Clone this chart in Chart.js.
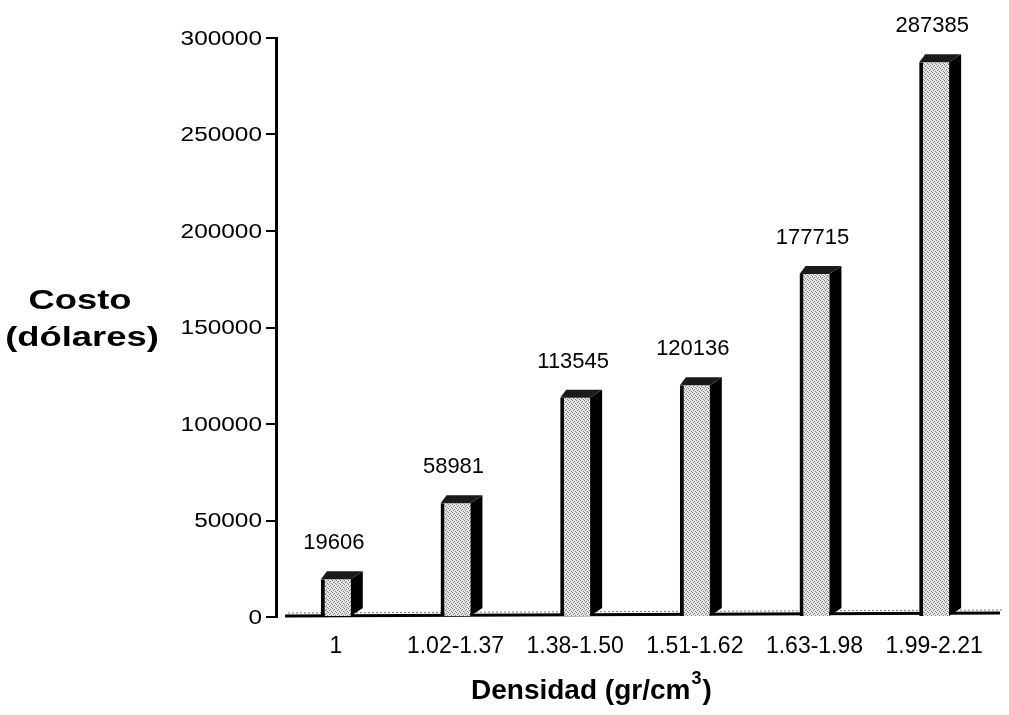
<!DOCTYPE html>
<html>
<head>
<meta charset="utf-8">
<script src="https://cdn.jsdelivr.net/npm/chart.js@4/dist/chart.umd.min.js"></script>
<style>
  html, body { margin: 0; padding: 0; background: #fff; }
  #wrap { width: 1009px; height: 715px; }
</style>
</head>
<body>
<div id="wrap"><canvas id="c" width="1009" height="715"></canvas></div>
<script>
// Density ranges (gr/cm3) and cost in dollars
const categories = ['1', '1.02-1.37', '1.38-1.50', '1.51-1.62', '1.63-1.98', '1.99-2.21'];
const costs = [19606, 58981, 113545, 120136, 177715, 287385];
const yTicks = [0, 50000, 100000, 150000, 200000, 250000, 300000];

const FONT = '"Liberation Sans", Arial, Helvetica, sans-serif';
const DEPTH_X = 12, DEPTH_Y = 8;

// Stippled light-grey fill for the bar fronts
function stipple() {
  const p = document.createElement('canvas');
  p.width = 4; p.height = 4;
  const g = p.getContext('2d');
  g.fillStyle = '#e2e2e2'; g.fillRect(0, 0, 4, 4);
  g.fillStyle = '#7c7c7c';
  [[0,0],[2,1],[1,2],[3,3]].forEach(([x, y]) => g.fillRect(x, y, 1, 1));
  g.fillStyle = '#ffffff';
  [[1,0],[3,2]].forEach(([x, y]) => g.fillRect(x, y, 1, 1));
  return g.createPattern(p, 'repeat');
}
const ctx0 = document.getElementById('c').getContext('2d');
const frontFill = stipple();

// Draw text stretched horizontally around an anchor
function wideText(ctx, text, x, y, align, sx) {
  ctx.save();
  ctx.translate(x, y);
  ctx.scale(sx, 1);
  ctx.textAlign = align;
  ctx.fillText(text, 0, 0);
  ctx.restore();
}

// Extruded sides, tops, floor, value labels and the free-standing titles
const solidBars = {
  id: 'solidBars',
  beforeDatasetsDraw(chart) {
    const { ctx, chartArea: a } = chart;
    ctx.save();
    ctx.strokeStyle = '#000';
    ctx.lineWidth = 3;
    ctx.beginPath();
    ctx.moveTo(a.left + 9, a.bottom - 1);
    ctx.lineTo(a.right + 6, a.bottom - 4);
    ctx.stroke();
    ctx.strokeStyle = '#777';
    ctx.lineWidth = 1;
    ctx.setLineDash([2, 2]);
    ctx.beginPath();
    ctx.moveTo(a.left + 12, a.bottom - 4);
    ctx.lineTo(a.right + 8, a.bottom - 7);
    ctx.stroke();
    ctx.restore();
  },
  afterDatasetsDraw(chart) {
    const { ctx } = chart;
    const meta = chart.getDatasetMeta(0);
    ctx.save();
    meta.data.forEach((bar, i) => {
      const l = bar.x - bar.width / 2, r = bar.x + bar.width / 2;
      const t = bar.y, b = bar.base;
      // right side
      ctx.fillStyle = '#000';
      ctx.beginPath();
      ctx.moveTo(r, t);
      ctx.lineTo(r + DEPTH_X, t - DEPTH_Y);
      ctx.lineTo(r + DEPTH_X, b - DEPTH_Y);
      ctx.lineTo(r, b);
      ctx.closePath();
      ctx.fill();
      // top
      ctx.beginPath();
      ctx.moveTo(l, t);
      ctx.lineTo(l + DEPTH_X * 0.5, t - DEPTH_Y);
      ctx.lineTo(r + DEPTH_X, t - DEPTH_Y);
      ctx.lineTo(r, t);
      ctx.closePath();
      ctx.fillStyle = '#1a1a1a';
      ctx.fill();
      // value label
      ctx.fillStyle = '#000';
      ctx.font = '22px ' + FONT;
      ctx.textAlign = 'center';
      ctx.textBaseline = 'alphabetic';
      ctx.fillText(String(costs[i]), bar.x - 2, t - 30);
    });
    ctx.restore();
  },
  afterDraw(chart) {
    const { ctx } = chart;
    const y = chart.scales.y;
    ctx.save();
    ctx.fillStyle = '#000';
    // value-axis tick labels
    ctx.font = '20px ' + FONT;
    ctx.textBaseline = 'middle';
    yTicks.forEach(v => wideText(ctx, String(v), y.right - 14, y.getPixelForValue(v) + 1, 'right', 1.22));
    // value-axis title
    ctx.font = 'bold 28px ' + FONT;
    ctx.textBaseline = 'alphabetic';
    wideText(ctx, 'Costo', 80, 309, 'center', 1.3);
    wideText(ctx, '(dólares)', 82, 346, 'center', 1.3);
    // category-axis title with superscript
    ctx.textAlign = 'left';
    ctx.textBaseline = 'middle';
    ctx.font = 'bold 28px ' + FONT;
    const main = 'Densidad (gr/cm';
    const x0 = 471, y0 = 691;
    ctx.fillText(main, x0, y0);
    const w = ctx.measureText(main).width;
    ctx.font = 'bold 18px ' + FONT;
    ctx.fillText('3', x0 + w + 1, y0 - 12);
    const w3 = ctx.measureText('3').width;
    ctx.font = 'bold 28px ' + FONT;
    ctx.fillText(')', x0 + w + w3 + 2, y0);
    ctx.restore();
  }
};

new Chart(ctx0, {
  type: 'bar',
  data: {
    labels: categories,
    datasets: [{
      data: costs,
      backgroundColor: frontFill,
      borderColor: '#000',
      borderWidth: { left: 4, right: 0, top: 0, bottom: 0 },
      borderSkipped: false,
      barPercentage: 0.25,
      categoryPercentage: 1.0
    }]
  },
  options: {
    responsive: false,
    animation: false,
    devicePixelRatio: 1,
    layout: { padding: { top: 38, right: 15, left: 0, bottom: 0 } },
    plugins: { legend: { display: false }, tooltip: { enabled: false }, title: { display: false } },
    scales: {
      x: {
        grid: { display: false },
        border: { display: false },
        ticks: { color: '#000', font: { family: FONT, size: 23 }, padding: 8, maxRotation: 0, autoSkip: false },
        afterFit(s) { s.height = 98; }
      },
      y: {
        min: 0,
        max: 300000,
        afterBuildTicks(s) { s.ticks = yTicks.map(v => ({ value: v })); },
        grid: { display: true, drawOnChartArea: false, drawTicks: true, tickLength: 10, color: '#000', lineWidth: 2 },
        border: { display: true, color: '#000', width: 3 },
        ticks: { display: false },
        afterFit(s) { s.width = 276; }
      }
    }
  },
  plugins: [solidBars]
});
</script>
</body>
</html>
